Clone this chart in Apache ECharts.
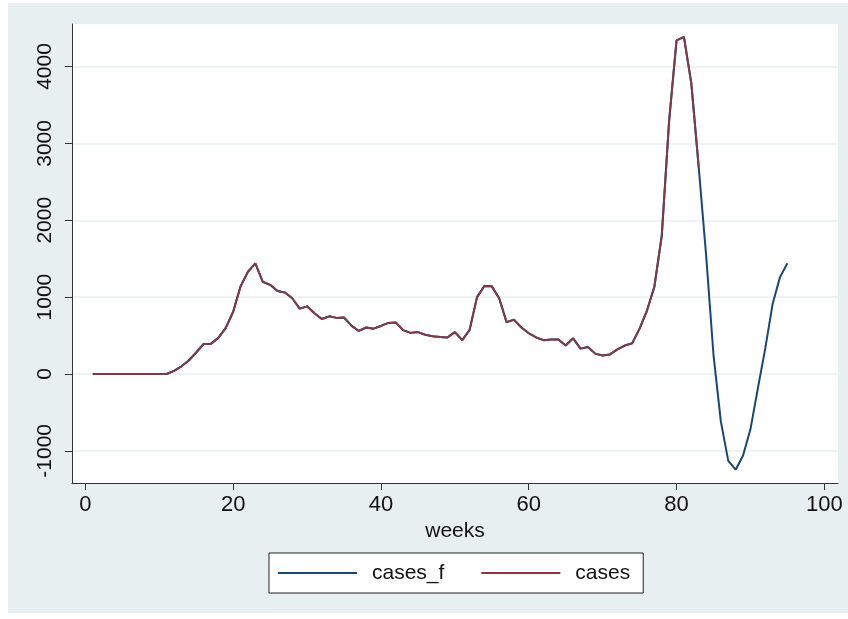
<!DOCTYPE html>
<html>
<head>
<meta charset="utf-8">
<script src="https://cdn.jsdelivr.net/npm/echarts@6/dist/echarts.min.js"></script>
<style>
html,body{margin:0;padding:0;background:#ffffff;}
#bg{position:absolute;left:8px;top:3px;width:840px;height:610px;background:#e8eff1;}
#chart{position:absolute;left:0;top:0;width:848px;height:619px;}
</style>
</head>
<body>
<div id="bg"></div>
<div id="chart"></div>
<script>
// weeks 1..95
const weeks = [];
for (let w = 1; w <= 95; w++) weeks.push(w);

// observed cases, weeks 1..83
const cases = [
  0,0,0,0,0,0,0,0,0,0,0,          // 1-11
  40,100,175,280,390,395,470,600,810, // 12-20
  1140,1330,1440,1200,1160,1080,1060,985,850,880, // 21-30
  790,715,750,730,735,630,560,605,590,625,        // 31-40
  665,670,570,535,545,510,490,480,475,545,        // 41-50
  440,575,1000,1145,1140,985,675,705,605,530,     // 51-60
  475,440,450,450,370,465,330,350,265,240,        // 61-70
  255,320,370,400,590,825,1135,1800,3300,4340,    // 71-80
  4385,3780,2690                                  // 81-83
];

// forecast values beyond the observed period, weeks 84..95
const forecastTail = [1550,250,-620,-1130,-1245,-1060,-720,-190,330,910,1260,1440];

// cases_f equals the fitted series: observed part + forecast tail
const casesF = cases.concat(forecastTail);

const xTicks = [0,20,40,60,80,100];
const yTicks = [-1000,0,1000,2000,3000,4000];

const casesPts = cases.map((v,i) => [weeks[i], v]);
const casesFPts = casesF.map((v,i) => [weeks[i], v]);

const FONT = 'Liberation Sans, Arial, sans-serif';
const chart = echarts.init(document.getElementById('chart'), null, {renderer:'canvas'});
chart.setOption({
  animation: false,
  backgroundColor: 'transparent',
  grid: {
    left: 72, right: 10, top: 24, bottom: 136,
    show: true, backgroundColor: '#ffffff', borderWidth: 0
  },
  xAxis: {
    type: 'value',
    min: -1.81, max: 101.85,
    name: 'weeks',
    nameLocation: 'middle',
    nameGap: 38,
    nameTextStyle: {fontFamily: FONT, fontSize: 21, color: '#111'},
    axisLine: {show: true, onZero: false, lineStyle: {color: '#333', width: 1}},
    axisTick: {show: true, length: 7, customValues: xTicks, lineStyle: {color: '#333'}},
    axisLabel: {customValues: xTicks, fontFamily: FONT, fontSize: 22, color: '#111', margin: 11,
      formatter: v => String(v)},
    splitLine: {show: false}
  },
  yAxis: {
    type: 'value',
    min: -1418, max: 4553,
    axisLine: {show: true, onZero: false, lineStyle: {color: '#333', width: 1}},
    axisTick: {show: true, length: 7, customValues: yTicks, lineStyle: {color: '#333'}},
    axisLabel: {customValues: yTicks, rotate: 90, fontFamily: FONT, fontSize: 21, color: '#111', margin: 16,
      formatter: v => String(v)},
    splitLine: {show: true, lineStyle: {color: '#e9f0f2', width: 1.5}}
  },
  legend: {
    left: 269, top: 553,
    orient: 'horizontal',
    data: ['cases_f', 'cases'],
    icon: 'rect',
    itemWidth: 79, itemHeight: 2,
    itemGap: 37,
    padding: [9, 13, 9, 9],
    backgroundColor: '#ffffff',
    borderColor: '#222', borderWidth: 1,
    textStyle: {fontFamily: FONT, fontSize: 21, color: '#111', lineHeight: 22, padding: [0,0,0,10]}
  },
  series: [
    {
      name: 'cases_f', type: 'line', data: casesFPts,
      showSymbol: false, symbol: 'none',
      lineStyle: {color: '#1a476f', width: 2},
      itemStyle: {color: '#1a476f'}
    },
    {
      name: 'cases', type: 'line', data: casesPts,
      showSymbol: false, symbol: 'none',
      lineStyle: {color: '#7e3a46', width: 2},
      itemStyle: {color: '#90353b'}
    }
  ]
});
</script>
</body>
</html>
